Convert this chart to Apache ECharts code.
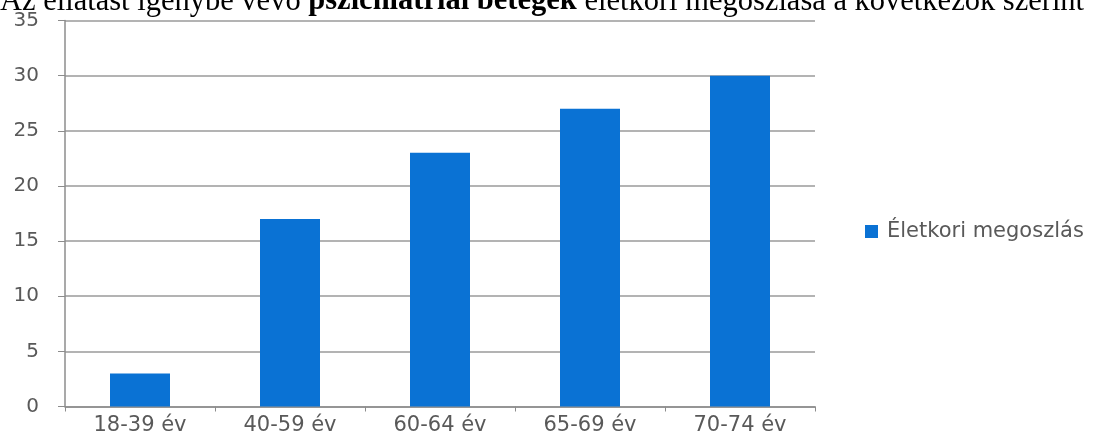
<!DOCTYPE html>
<html><head><meta charset="utf-8">
<script src="https://cdn.jsdelivr.net/npm/echarts@6/dist/echarts.min.js"></script>
<style>html,body{margin:0;padding:0;background:#fff}#c{width:1094px;height:444px}</style>
</head><body><div id="c"></div>
<script>
var categories = ['18-39 év','40-59 év','60-64 év','65-69 év','70-74 év'];
var values = [3, 17, 23, 27, 30];
var seriesName = 'Életkori megoszlás';
var titleParts = ['Az ellátást igénybe vevő ', 'pszichiátriai betegek', ' életkori megoszlása a következők szerint'];

var chart = echarts.init(document.getElementById('c'));
chart.setOption({
  animation: false,
  backgroundColor: '#fff',
  title: {
    text: titleParts[0] + '{b|' + titleParts[1] + '}' + titleParts[2],
    left: 0, top: -14, padding: 0,
    textStyle: {
      fontFamily: 'Liberation Serif', fontSize: 30.5, fontWeight: 'normal', color: '#000',
      rich: { b: { fontFamily: 'Liberation Serif', fontSize: 30.5, fontWeight: 'bold', color: '#000' } }
    }
  },
  legend: {
    data: [seriesName], left: 860, top: 216, itemWidth: 13, itemHeight: 13, itemGap: 6,
    icon: 'rect',
    textStyle: { color: '#595959', fontSize: 21, fontFamily: 'DejaVu Sans', padding: [0, 0, 0, 4] }
  },
  grid: { left: 65, right: 279, top: 20.5, bottom: 37.5 },
  xAxis: {
    type: 'category', data: categories,
    axisLine: { lineStyle: { color: '#8c8c8c', width: 1.5 } },
    axisTick: { show: true, length: 5, lineStyle: { color: '#8c8c8c' } },
    axisLabel: { color: '#595959', fontSize: 21, fontFamily: 'DejaVu Sans', margin: 9 }
  },
  yAxis: {
    type: 'value', min: 0, max: 35, interval: 5,
    axisLine: { show: true, lineStyle: { color: '#8c8c8c', width: 1.5 } },
    axisTick: { show: true, length: 7, lineStyle: { color: '#8c8c8c' } },
    axisLabel: { color: '#595959', fontSize: 20, fontFamily: 'DejaVu Sans', margin: 26 },
    splitLine: { lineStyle: { color: '#9a9a9a', width: 1.5 } }
  },
  series: [{
    name: seriesName, type: 'bar', data: values, barWidth: 60,
    itemStyle: { color: '#0a72d4' }
  }]
});
</script></body></html>
